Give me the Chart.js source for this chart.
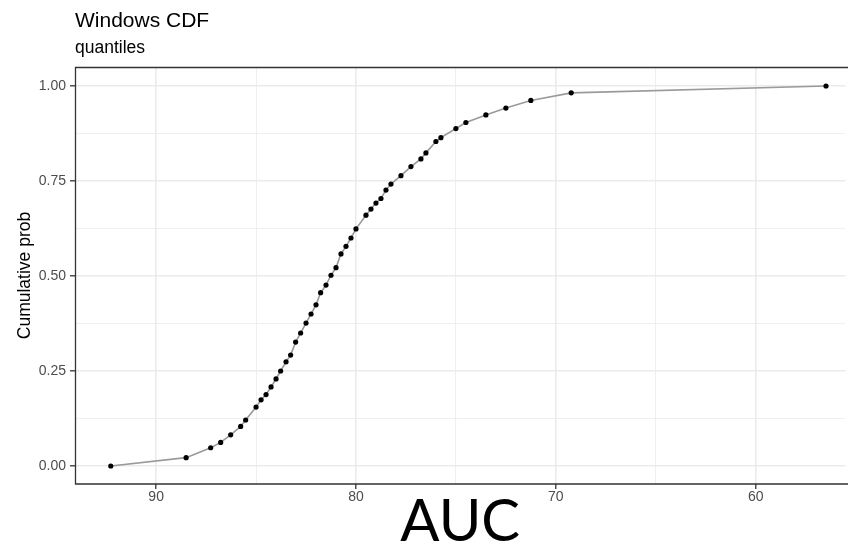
<!DOCTYPE html>
<html><head><meta charset="utf-8">
<script src="https://cdn.jsdelivr.net/npm/chart.js@4.4.1/dist/chart.umd.min.js"></script>
<style>html,body{margin:0;padding:0;background:#fff;overflow:hidden}#wrap{width:848px;height:546px;position:relative}</style>
</head><body><div id="wrap"><canvas id="c" width="848" height="546"></canvas></div>
<script>
const titleText = "Windows CDF";
const subtitleText = "quantiles";
const xTitle = "AUC";
const yTitle = "Cumulative prob";

const auc = [92.27, 88.5, 87.27, 86.77, 86.27, 85.77, 85.52, 85.0, 84.75, 84.5,
  84.25, 84.0, 83.77, 83.5, 83.27, 83.02, 82.77, 82.5, 82.25, 82.0,
  81.77, 81.5, 81.25, 81.0, 80.75, 80.5, 80.25, 80.0, 79.5, 79.25,
  79.0, 78.75, 78.5, 78.25, 77.75, 77.25, 76.75, 76.5, 76.0, 75.75,
  75.0, 74.5, 73.5, 72.5, 71.25, 69.23, 56.48];
const prob = [0, 0.022, 0.048, 0.062, 0.082, 0.104, 0.121, 0.155, 0.174, 0.188,
  0.208, 0.229, 0.250, 0.274, 0.292, 0.326, 0.350, 0.376, 0.400, 0.424,
  0.456, 0.476, 0.502, 0.522, 0.558, 0.578, 0.600, 0.624, 0.660, 0.676,
  0.692, 0.704, 0.726, 0.742, 0.764, 0.788, 0.808, 0.824, 0.854, 0.864,
  0.888, 0.904, 0.924, 0.942, 0.962, 0.982, 1.0];

const xMajorTicks = [90, 80, 70, 60];
const xMinorTicks = [85, 75, 65];
const yMajorTicks = [0, 0.25, 0.5, 0.75, 1];
const yMinorTicks = [0.125, 0.375, 0.625, 0.875];

const points = auc.map((v, i) => ({x: v, y: prob[i]}));

const FONT = '"Liberation Sans", Arial, sans-serif';

const decor = {
  id: 'decor',
  afterDraw(chart) {
    const {ctx, chartArea: a, width} = chart;
    ctx.save();
    ctx.strokeStyle = '#333333';
    ctx.lineWidth = 1.3;
    ctx.beginPath();
    ctx.moveTo(width, a.top + 0.5);
    ctx.lineTo(a.left + 0.5, a.top + 0.5);
    ctx.lineTo(a.left + 0.5, a.bottom);
    ctx.lineTo(width, a.bottom);
    ctx.stroke();
    ctx.fillStyle = '#000';
    ctx.textAlign = 'left';
    ctx.textBaseline = 'alphabetic';
    ctx.font = '21px ' + FONT;
    ctx.fillText(titleText, a.left, 27);
    ctx.font = '17.5px ' + FONT;
    ctx.fillText(subtitleText, a.left, 53);
    ctx.restore();
  }
};

function setTicks(major, minor) {
  return (axis) => {
    axis.ticks = major.concat(minor).sort((a, b) => a - b).map(v => ({value: v}));
  };
}

new Chart(document.getElementById('c'), {
  type: 'scatter',
  data: {
    datasets: [{
      data: points,
      showLine: true,
      borderColor: '#9a9a9a',
      borderWidth: 1.6,
      pointRadius: 2.6,
      pointBackgroundColor: '#000',
      pointBorderWidth: 0,
      pointHoverRadius: 2.6
    }]
  },
  options: {
    responsive: false,
    animation: false,
    devicePixelRatio: 1,
    layout: {padding: {top: 67, right: 0, left: 0, bottom: 0}},
    plugins: {legend: {display: false}, tooltip: {enabled: false}},
    scales: {
      x: {
        type: 'linear',
        reverse: true,
        min: 55.51,
        max: 94.06,
        afterBuildTicks: setTicks(xMajorTicks, xMinorTicks),
        afterFit: (s) => { s.height = 62; },
        border: {display: false},
        grid: {
          color: '#ebebeb',
          lineWidth: (c) => xMajorTicks.includes(c.tick.value) ? 1.6 : 0.8,
          tickColor: (c) => xMajorTicks.includes(c.tick.value) ? '#333333' : 'rgba(0,0,0,0)',
          tickLength: 5,
          tickWidth: 1.3
        },
        ticks: {
          autoSkip: false, maxRotation: 0, padding: 0,
          color: '#4d4d4d',
          font: {family: FONT, size: 14},
          callback: (v) => xMajorTicks.includes(v) ? String(v) : ''
        },
        title: {
          display: true, text: xTitle, color: '#000',
          font: {family: 'Lato, "Open Sans", sans-serif', size: 58, lineHeight: 1},
          padding: {top: 0, bottom: -5}
        }
      },
      y: {
        type: 'linear',
        min: -0.0474,
        max: 1.05,
        afterBuildTicks: setTicks(yMajorTicks, yMinorTicks),
        afterFit: (s) => { s.width = 75; },
        border: {display: false},
        grid: {
          color: '#ebebeb',
          lineWidth: (c) => yMajorTicks.includes(c.tick.value) ? 1.6 : 0.8,
          tickColor: (c) => yMajorTicks.includes(c.tick.value) ? '#333333' : 'rgba(0,0,0,0)',
          tickLength: 5,
          tickWidth: 1.3
        },
        ticks: {
          autoSkip: false, padding: 4,
          color: '#4d4d4d',
          font: {family: FONT, size: 14},
          callback: (v) => yMajorTicks.includes(v) ? v.toFixed(2) : ''
        },
        title: {
          display: true, text: yTitle, color: '#000',
          font: {family: FONT, size: 17.5},
          padding: {top: 15, bottom: 0}
        }
      }
    }
  },
  plugins: [decor]
});
</script>
</body></html>
